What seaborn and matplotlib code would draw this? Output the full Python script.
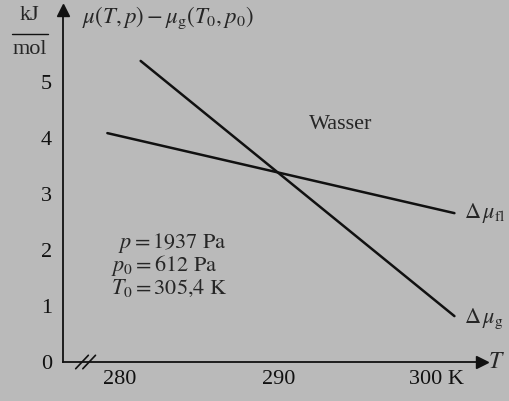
import seaborn as sns
import pandas as pd
import matplotlib.pyplot as plt

# line end points (T in K, value in kJ/mol)
T_g = [281.3, 301.1]
mu_g = [5.38, 0.82]
T_fl = [279.2, 301.1]
mu_fl = [4.09, 2.66]
xticks = [280, 290, 300]
xticklabels = ['280', '290', '300 K']
yticks = [0, 1, 2, 3, 4, 5]

df = pd.DataFrame({
    'T': T_g + T_fl,
    'mu': mu_g + mu_fl,
    'phase': ['g'] * len(T_g) + ['fl'] * len(T_fl),
})

sns.set_style('white')
plt.rcParams['font.family'] = ['Liberation Serif', 'DejaVu Serif']
plt.rcParams['mathtext.fontset'] = 'stix'

bg = '#bababa'
fig = plt.figure(figsize=(5.09, 4.01), dpi=100, facecolor=bg)
ax = fig.add_axes([63 / 509, 39 / 401, 419 / 509, 352 / 401])
ax.set_facecolor(bg)

sns.lineplot(data=df, x='T', y='mu', units='phase', estimator=None,
             color='#111111', linewidth=1.8, ax=ax, legend=False)

ax.set_xlim(276.4, 302.84)
ax.set_ylim(0, 6.29)
ax.set_xticks(xticks)
ax.set_xticklabels(xticklabels)
ax.set_yticks(yticks)
ax.tick_params(axis='x', direction='in', length=5, width=1, labelsize=16, pad=6, colors='#111111')
ax.tick_params(axis='y', direction='out', length=5, width=1, labelsize=16, pad=3, colors='#111111')
ax.set_xlabel('')
ax.set_ylabel('')
for s in ['top', 'right']:
    ax.spines[s].set_visible(False)
for s in ['left', 'bottom']:
    ax.spines[s].set_color('#111111')
    ax.spines[s].set_linewidth(1.3)

# arrow heads
ax.plot(1, 0, '>', color='#111111', ms=8, transform=ax.transAxes, clip_on=False)
ax.plot(0, 1, '^', color='#111111', ms=8, transform=ax.transAxes, clip_on=False)

# axis break marks
for dx in [0, 0.45]:
    ax.plot([277.2 + dx, 278.0 + dx], [-0.12, 0.12], color='#111111', lw=1.2, clip_on=False)

ax.text(1.015, 0, '$T$', transform=ax.transAxes, fontsize=17, va='center', ha='left')
fig.text(30 / 509, 1 - 16 / 401, 'kJ', fontsize=16, ha='center', va='center')
fig.add_artist(plt.Line2D([12 / 509, 48 / 509], [1 - 34 / 401, 1 - 34 / 401], color='#111111', lw=1))
fig.text(30 / 509, 1 - 50 / 401, 'mol', fontsize=16, ha='center', va='center')
fig.text(82 / 509, 1 - 18 / 401, r'$\mu(T,p)-\mu_\mathrm{g}(T_0,p_0)$', fontsize=16.5, ha='left', va='center')

ax.text(293.9, 4.25, 'Wasser', fontsize=16, ha='center', va='center')
ax.text(301.7, 2.66, r'$\Delta\,\mu_\mathrm{fl}$', fontsize=16, ha='left', va='center')
ax.text(301.7, 0.78, r'$\Delta\,\mu_\mathrm{g}$', fontsize=16, ha='left', va='center')
ax.text(279.9, 2.12, r'$p = 1937\ \mathrm{Pa}$', fontsize=16, ha='left', va='center')
ax.text(279.4, 1.72, r'$p_0 = 612\ \mathrm{Pa}$', fontsize=16, ha='left', va='center')
ax.text(279.4, 1.31, r'$T_0 = 305{,}4\ \mathrm{K}$', fontsize=16, ha='left', va='center')

fig.savefig('out.png', dpi=100, facecolor=bg)
